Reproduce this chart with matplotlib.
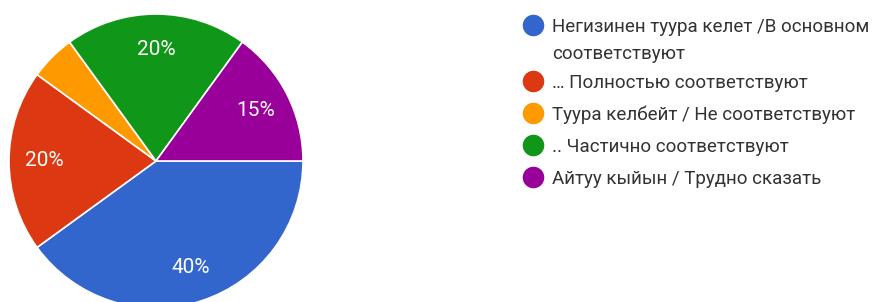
import matplotlib.pyplot as plt
from matplotlib.lines import Line2D

# answers and their shares (percent)
labels = [
    "Негизинен туура келет /В основном\nсоответствуют",
    "… Полностью соответствуют",
    "Туура келбейт / Не соответствуют",
    ".. Частично соответствуют",
    "Айтуу кыйын / Трудно сказать",
]
shares = [40, 20, 5, 20, 15]
colors = ["#3366cc", "#dc3912", "#ff9900", "#109618", "#990099"]

plt.rcParams["font.family"] = ["Roboto", "DejaVu Sans"]

W, H = 879, 302
fig = plt.figure(figsize=(W / 100, H / 100), dpi=100)

# pie: centre (156, 161) px from top-left, radius 147 px
cx, cy, r = 156, 161, 147
ax = fig.add_axes([(cx - r) / W, (H - cy - r) / H, 2 * r / W, 2 * r / H])


def pct_label(p):
    return f"{p:.0f}%" if p >= 10 else ""


wedges, texts, autotexts = ax.pie(
    shares, colors=colors, startangle=0, counterclock=False,
    autopct=pct_label, pctdistance=0.76,
    wedgeprops=dict(edgecolor="white", linewidth=1.2),
    textprops=dict(color="white", fontsize=15),
)
ax.set_xlim(-1, 1)
ax.set_ylim(-1, 1)
ax.set_aspect("equal")

# legend drawn by hand so the marker sits on the first line of a wrapped label
y = 25
for lab, col in zip(labels, colors):
    fig.add_artist(Line2D([533 / W], [1 - y / H], marker="o", markersize=14.5,
                          color=col, linestyle="none", transform=fig.transFigure))
    for k, line in enumerate(lab.split("\n")):
        fig.text(552 / W, 1 - (y + 7 + 27 * k) / H, line, fontsize=13.5,
                 color="#333333", va="baseline", ha="left")
    y += 32 + 24 * lab.count("\n")

fig.savefig("out.png", dpi=100)
